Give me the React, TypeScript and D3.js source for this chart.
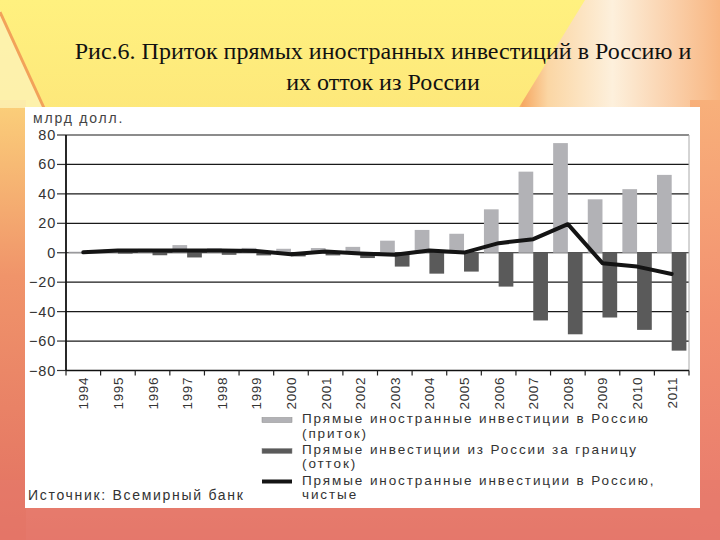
import React from "react";
import * as d3 from "d3";

const years = ["1994","1995","1996","1997","1998","1999","2000","2001","2002","2003","2004","2005","2006","2007","2008","2009","2010","2011"];
const inflow = [0.7, 2.1, 2.6, 5.2, 3.0, 3.3, 2.7, 3.2, 4.0, 8.2, 15.5, 12.9, 29.5, 55.1, 74.5, 36.3, 43.2, 52.9];
const outflow = [0.1, 0.6, 1.7, 3.2, 1.4, 1.8, 2.5, 1.8, 3.6, 9.4, 14.2, 12.8, 23.0, 46.0, 55.4, 44.0, 52.4, 66.5];
const net = [0.3, 1.5, 1.6, 1.6, 1.5, 1.2, -1.0, 0.8, -0.5, -1.4, 1.6, 0.1, 6.5, 9.2, 19.4, -7.1, -9.4, -14.4];
const yTicks = [80, 60, 40, 20, 0, -20, -40, -60, -80];
const titleLines = ["Рис.6. Приток прямых иностранных инвестиций в Россию и", "их отток из России"];
const unitLabel = "млрд долл.";
const sourceLabel = "Источник: Всемирный банк";
const legendItems = [
  { kind: "in", lines: ["Прямые иностранные инвестиции в Россию", "(приток)"] },
  { kind: "out", lines: ["Прямые инвестиции из России за границу", "(отток)"] },
  { kind: "net", lines: ["Прямые иностранные инвестиции в Россию,", "чистые"] },
];

const LIGHT = "#b2b2b6";
const DARK = "#5a5a5a";
const LINE = "#141414";
const SANS = "'Liberation Sans', Arial, sans-serif";

export default function App() {
  const left = 66, right = 689, top = 135, bottom = 370.5;
  const x = d3.scaleBand<string>().domain(years).range([left, right]).paddingInner(0.15).paddingOuter(0.075);
  const x1 = d3.scaleBand<string>().domain(["in", "out"]).range([0, x.bandwidth()]);
  const y = d3.scaleLinear().domain([-80, 80]).range([bottom, top]);
  const step = x.step();
  const line = d3.line<number>().x((_, i) => (x(years[i]) as number) + x.bandwidth() / 2).y((d) => y(d)).curve(d3.curveLinear);
  const boundaries = d3.range(years.length + 1).map((i) => left + i * step);

  const legendRows = [
    { sym: 420, base: [423, 437.5] },
    { sym: 451, base: [453.5, 468] },
    { sym: 481.5, base: [484.5, 499] },
  ];

  return (
    <svg width={720} height={540} style={{ position: "absolute", left: 0, top: 0 }} xmlns="http://www.w3.org/2000/svg">
      <defs>
        <linearGradient id="bgv" x1="0" y1="0" x2="0" y2="1">
          <stop offset="0" stopColor="#fff17f" />
          <stop offset="0.22" stopColor="#fde77a" />
          <stop offset="0.5" stopColor="#f8bf76" />
          <stop offset="0.75" stopColor="#ef9274" />
          <stop offset="1" stopColor="#e4756a" />
        </linearGradient>
        <linearGradient id="bgr" x1="0" y1="0" x2="1" y2="0">
          <stop offset="0" stopColor="#fbe08a" stopOpacity="0" />
          <stop offset="0.08" stopColor="#f6a862" />
          <stop offset="0.2" stopColor="#fbd6a4" />
          <stop offset="0.5" stopColor="#fdf0dc" />
          <stop offset="1" stopColor="#f8b682" />
        </linearGradient>
        <linearGradient id="bgl" x1="0" y1="0" x2="0" y2="1">
          <stop offset="0" stopColor="#fbd07a" />
          <stop offset="0.4" stopColor="#f0946a" />
          <stop offset="1" stopColor="#e27062" />
        </linearGradient>
        <linearGradient id="bgrs" x1="0" y1="0" x2="0" y2="1">
          <stop offset="0" stopColor="#f8b07a" />
          <stop offset="0.5" stopColor="#f29070" />
          <stop offset="1" stopColor="#e7786c" />
        </linearGradient>
      </defs>
      <rect x={0} y={0} width={720} height={540} fill="url(#bgv)" />
      <path d="M585,0 L720,0 L720,130 L505,130 Z" fill="url(#bgr)" />
      <rect x={690} y={100} width={30} height={440} fill="url(#bgrs)" />
      <rect x={0} y={100} width={26} height={440} fill="url(#bgl)" />
      <path d="M0,0 L0,10 Q22,60 44,108 L0,108 Z" fill="#fdf2b8" opacity={0.8} />
      <path d="M0,12 Q22,60 44,108" fill="none" stroke="#f2a25a" strokeWidth={3} />
      <rect x={0} y={480} width={720} height={60} fill="#e67a6c" opacity={0.5} />

      {titleLines.map((t, i) => (
        <text key={i} x={383} y={59 + i * 30.5} textAnchor="middle" fontFamily="'Liberation Serif', 'Times New Roman', serif" fontSize={24} fill="#111">
          {t}
        </text>
      ))}

      <rect x={25} y={107} width={675} height={401} fill="#ffffff" />

      <text x={33} y={123} fontFamily={SANS} fontSize={14} letterSpacing={1.8} fill="#444">{unitLabel}</text>

      {yTicks.map((t) => (
        <g key={t}>
          <line x1={left} x2={right} y1={y(t)} y2={y(t)} stroke="#1a1a1a" strokeWidth={1.2} />
          <line x1={left - 9} x2={left} y1={y(t)} y2={y(t)} stroke="#333" strokeWidth={1.2} />
          <text x={left - 10} y={y(t) + 5} textAnchor="end" fontFamily={SANS} fontSize={14.5} letterSpacing={0.8} fill="#333">
            {t < 0 ? "\u2212" + Math.abs(t) : t}
          </text>
        </g>
      ))}

      {years.map((yr, i) => (
        <g key={yr}>
          <rect x={(x(yr) as number) + (x1("in") as number)} width={x1.bandwidth()} y={y(inflow[i])} height={y(0) - y(inflow[i])} fill={LIGHT} />
          <rect x={(x(yr) as number) + (x1("out") as number)} width={x1.bandwidth()} y={y(0)} height={y(-outflow[i]) - y(0)} fill={DARK} />
        </g>
      ))}

      <path d={line(net) || ""} fill="none" stroke={LINE} strokeWidth={4} strokeLinejoin="round" strokeLinecap="round" />

      <line x1={left} x2={left} y1={top} y2={bottom} stroke="#111" strokeWidth={1.8} />
      <line x1={right} x2={right} y1={top} y2={bottom} stroke="#aaa" strokeWidth={1} />
      <line x1={left} x2={right} y1={bottom} y2={bottom} stroke="#111" strokeWidth={1.5} />
      {boundaries.map((b, i) => (
        <line key={i} x1={b} x2={b} y1={bottom} y2={bottom + 5} stroke="#222" strokeWidth={1.2} />
      ))}

      {years.map((yr) => {
        const cx = (x(yr) as number) + x.bandwidth() / 2 + 5;
        return (
          <text key={yr} transform={`translate(${cx},377) rotate(-90)`} textAnchor="end" fontFamily={SANS} fontSize={13.5} letterSpacing={0.6} fill="#333">
            {yr}
          </text>
        );
      })}

      {legendItems.map((it, i) => {
        const r = legendRows[i];
        return (
          <g key={it.kind}>
            {it.kind === "net" ? (
              <line x1={262} x2={292} y1={r.sym} y2={r.sym} stroke={LINE} strokeWidth={4} />
            ) : (
              <rect x={262} y={r.sym - 2.5} width={30} height={5} fill={it.kind === "in" ? LIGHT : DARK} stroke="#888" strokeWidth={0.5} />
            )}
            {it.lines.map((l, j) => (
              <text key={j} x={302} y={r.base[j]} fontFamily={SANS} fontSize={13.5} letterSpacing={1.9} fill="#333">{l}</text>
            ))}
          </g>
        );
      })}

      <text x={28} y={500} fontFamily={SANS} fontSize={14} letterSpacing={1.7} fill="#333">{sourceLabel}</text>
    </svg>
  );
}
